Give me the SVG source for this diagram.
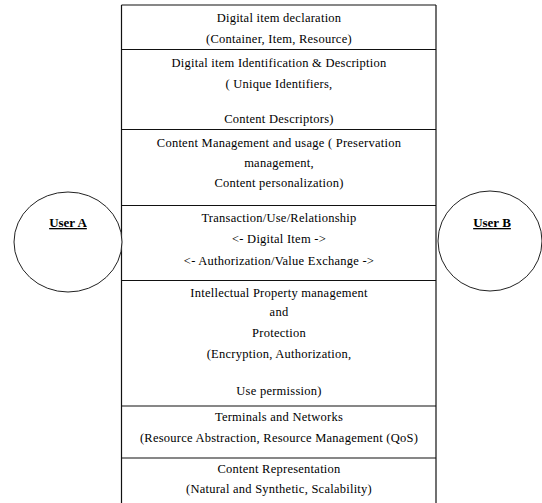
<svg xmlns="http://www.w3.org/2000/svg" width="542" height="503" viewBox="0 0 542 503">
<style>
.t{font-family:"Liberation Serif","Times New Roman",serif;font-size:12.5px;letter-spacing:0.25px;fill:#000;text-anchor:middle}
.u{font-family:"Liberation Serif","Times New Roman",serif;font-size:13px;font-weight:bold;fill:#000;text-anchor:middle;text-decoration:underline}
.ln{stroke:#111;stroke-width:1.2;fill:none}
.c{stroke:#222;stroke-width:1;fill:#fff}
</style>
<rect width="542" height="503" fill="#fff"/>
<g id="connectors">
<line class="ln" x1="121.5" y1="5" x2="121.5" y2="503"/>
<line class="ln" x1="436" y1="5" x2="436" y2="503"/>
<line class="ln" x1="121.5" y1="5" x2="436" y2="5"/>
</g>
<g id="layer1">
<text class="t" x="279" y="22">Digital item declaration</text>
<text class="t" x="279" y="43">(Container, Item, Resource)</text>
<line class="ln" x1="121.5" y1="49.5" x2="436" y2="49.5"/>
</g>
<g id="layer2">
<text class="t" x="279" y="67">Digital item Identification &amp; Description</text>
<text class="t" x="279" y="88">( Unique Identifiers,</text>
<text class="t" x="279" y="123">Content Descriptors)</text>
<line class="ln" x1="121.5" y1="129.5" x2="436" y2="129.5"/>
</g>
<g id="layer3">
<text class="t" x="279" y="147">Content Management and usage ( Preservation</text>
<text class="t" x="279" y="167">management,</text>
<text class="t" x="279" y="187">Content personalization)</text>
<line class="ln" x1="121.5" y1="205.5" x2="436" y2="205.5"/>
</g>
<g id="layer4">
<text class="t" x="279" y="222">Transaction/Use/Relationship</text>
<text class="t" x="279" y="243">&lt;- Digital Item -&gt;</text>
<text class="t" x="279" y="265">&lt;- Authorization/Value Exchange -&gt;</text>
<line class="ln" x1="121.5" y1="280.5" x2="436" y2="280.5"/>
</g>
<g id="layer5">
<text class="t" x="279" y="297">Intellectual Property management</text>
<text class="t" x="279" y="316">and</text>
<text class="t" x="279" y="337">Protection</text>
<text class="t" x="279" y="358">(Encryption, Authorization,</text>
<text class="t" x="279" y="395">Use permission)</text>
<line class="ln" x1="121.5" y1="406" x2="436" y2="406"/>
</g>
<g id="layer6">
<text class="t" x="279" y="421">Terminals and Networks</text>
<text class="t" x="279" y="442">(Resource Abstraction, Resource Management (QoS)</text>
<line class="ln" x1="121.5" y1="458" x2="436" y2="458"/>
</g>
<g id="layer7">
<text class="t" x="279" y="473">Content Representation</text>
<text class="t" x="279" y="493">(Natural and Synthetic, Scalability)</text>
</g>
<g id="userA">
<ellipse class="c" cx="68" cy="242" rx="54" ry="50"/>
<text class="u" x="68" y="227">User A</text>
</g>
<g id="userB">
<ellipse class="c" cx="490" cy="241" rx="52" ry="50"/>
<text class="u" x="492" y="227">User B</text>
</g>
</svg>
